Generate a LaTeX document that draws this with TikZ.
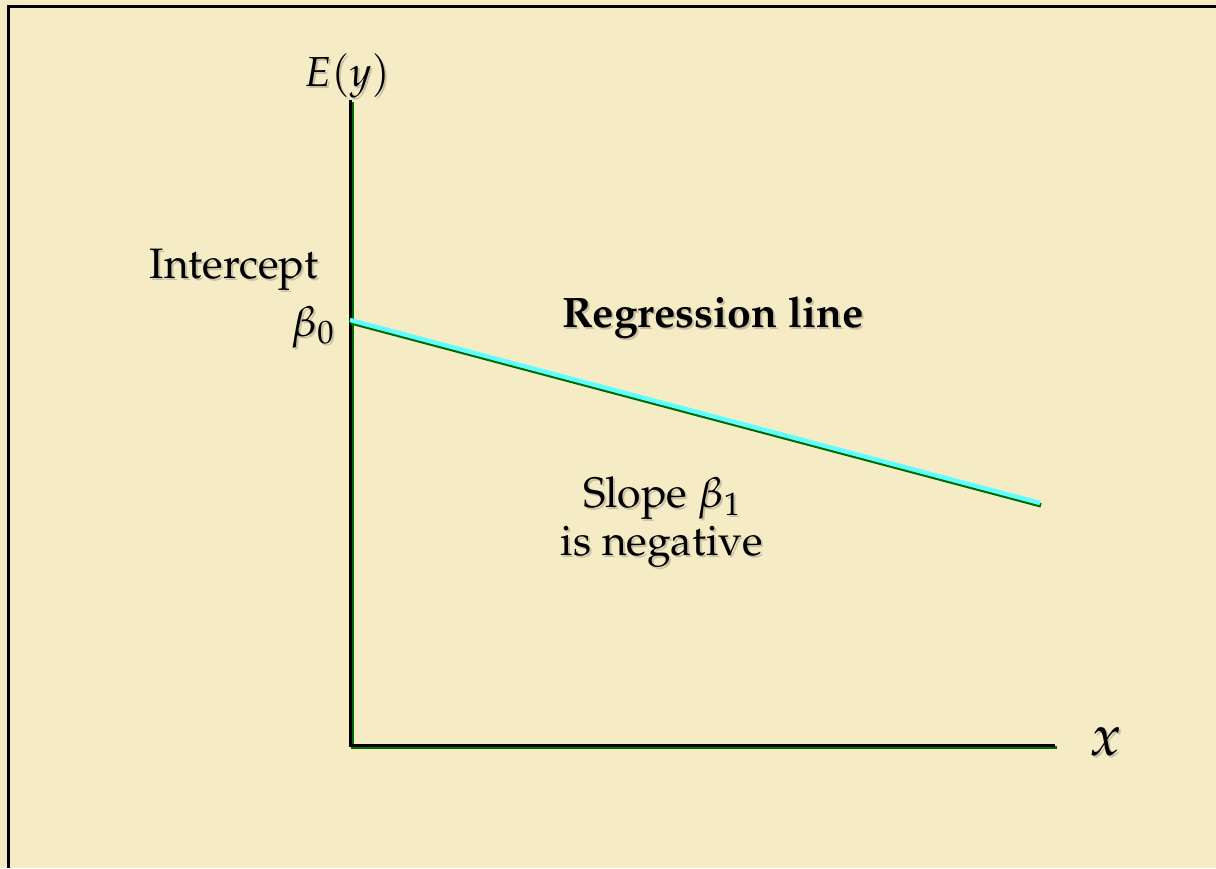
\documentclass[tikz,border=0pt]{standalone}
\usepackage[T1]{fontenc}
\usepackage{mathpazo}
\usetikzlibrary{positioning,calc}
\definecolor{paper}{RGB}{245,235,196}
\definecolor{axisgreen}{RGB}{0,105,0}
\definecolor{linecyan}{RGB}{95,255,255}
\definecolor{shadowgray}{RGB}{200,192,163}
\tikzset{
    lbl/.style={
        inner sep=0pt,
        align=center,
        font=\fontsize{21.3}{24}\selectfont,
        text=black
    },
    lblshadow/.style={
        lbl,
        text=shadowgray,
        xshift=1pt,
        yshift=-1pt
    },
    axisline/.style={line width=1.5pt, black, line join=miter},
    axisshade/.style={line width=1.5pt, axisgreen, line join=miter,
        transform canvas={xshift=1pt, yshift=-1pt}},
    regline/.style={line width=2.2pt, linecyan},
    regshade/.style={line width=2.2pt, axisgreen,
        transform canvas={xshift=0.5pt, yshift=-1.2pt}}
}
% text with a soft drop shadow
\newcommand{\shlabel}[4][]{%
    \node[lblshadow,#1] at #3 {#4};
    \node[lbl,#1] (#2) at #3 {#4};}

\begin{document}
\begin{tikzpicture}[x=0.5pt, y=-0.5pt]
    \fill[paper] (0,0) rectangle (1216,868);
    \useasboundingbox (0,0) rectangle (1216,868);
    \draw[line width=1.5pt] (8,868) -- (8,6) -- (1216,6);

    \coordinate (origin) at (350,745);
    \coordinate (ytop) at (350,100);
    \coordinate (xend) at (1055,745);
    \coordinate (bzero) at (350,320);
    \coordinate (lend) at (1040,503);

    % axes
    \draw[axisshade] (ytop) -- (origin) -- (xend);
    \draw[axisline] (ytop) -- (origin) -- (xend);

    % regression line
    \draw[regshade] (bzero) -- (lend);
    \draw[regline] (bzero) -- (lend);

    % labels
    \shlabel[font=\fontsize{21}{24}\selectfont]{ylab}{(347,76)}{$E(y)$}
    \shlabel{intercept}{(234,270)}{Intercept}
    \shlabel{bzerolab}{(313,327)}{$\beta_0$}
    \shlabel{reglab}{(713,318)}{\textbf{Regression line}}
    \shlabel{slope}{(662,522)}{Slope $\beta_1$\\is negative}
    \shlabel[font=\fontsize{29}{32}\selectfont]{xlab}{(1106,742)}{$x$}
\end{tikzpicture}
\end{document}
